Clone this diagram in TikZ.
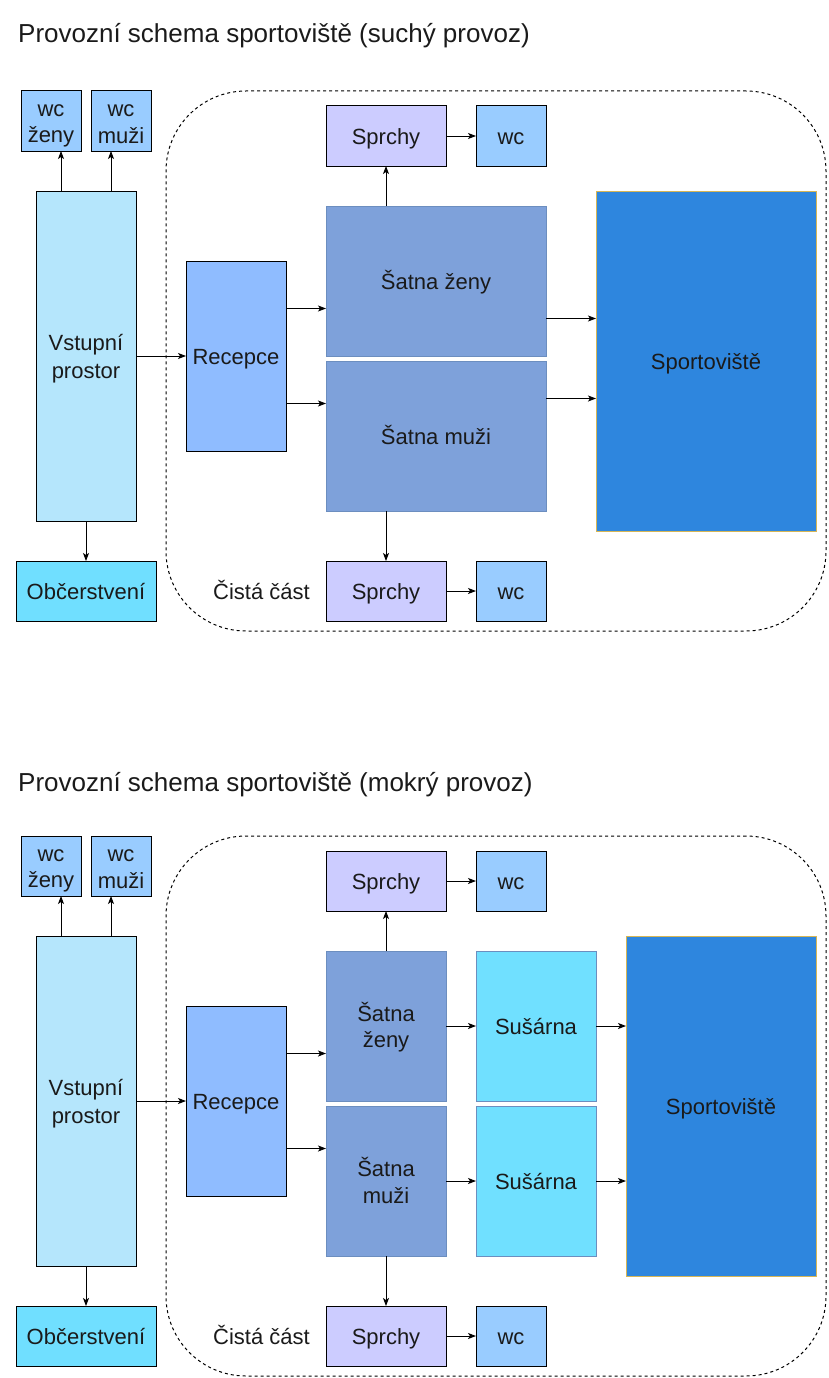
\documentclass[tikz,border=0pt]{standalone}
\usepackage{fontspec}
\setmainfont{Liberation Sans}
\usetikzlibrary{arrows.meta,calc}
\definecolor{wcc}{HTML}{99CCFF}
\definecolor{vstc}{HTML}{B5E6FC}
\definecolor{obcc}{HTML}{70DFFF}
\definecolor{recc}{HTML}{8FBCFF}
\definecolor{satc}{HTML}{7EA1DA}
\definecolor{satb}{HTML}{6C8EBF}
\definecolor{sprc}{HTML}{CCCCFF}
\definecolor{spoc}{HTML}{2E86DE}
\definecolor{spob}{HTML}{D6B656}
\definecolor{susc}{HTML}{70E0FF}
\definecolor{txt}{HTML}{1A1A1A}
\newcommand{\lnstrut}{\rule[-4.4pt]{0pt}{26.4pt}}
\newcommand{\twol}[2]{\lnstrut#1\\\lnstrut#2}
\begin{document}
\begin{tikzpicture}[x=1pt,y=-1pt,
  box/.style={draw=black, line width=1pt, anchor=north west, inner sep=0pt, outer sep=0pt, align=center, font=\fontsize{22}{26.4}\selectfont, text=txt},
  satbox/.style={box, draw=satb, fill=satc},
  zonebox/.style={draw=black, line width=1pt, dash pattern=on 3pt off 3pt, rounded corners=80pt, anchor=north west, inner sep=0pt, outer sep=0pt},
  arr/.style={draw=black, line width=0.9pt, -{Stealth[length=8pt,width=6pt,inset=2pt]}},
  ttl/.style={anchor=base west, inner sep=0pt, font=\fontsize{26}{31}\selectfont, text=txt},
  lbl/.style={inner sep=0pt, font=\fontsize{22}{26.4}\selectfont, text=txt}]
\useasboundingbox (0,0) rectangle (828,1378);

% ---------- top diagram ----------
\node[ttl] (t1) at (18,43) {Provozní schema sportoviště (suchý provoz)};
\node[zonebox, minimum width=660pt, minimum height=540pt] (z1) at (166,91) {};
\node[box, fill=wcc, minimum width=60pt, minimum height=60pt] (a1wz) at (21,91) {\twol{wc}{ženy}};
\node[box, fill=wcc, minimum width=60pt, minimum height=60pt] (a1wm) at (91,91) {\twol{wc}{muži}};
\node[box, fill=vstc, minimum width=100pt, minimum height=330pt] (a1vst) at (36,191) {\twol{Vstupní}{prostor}};
\node[box, fill=obcc, minimum width=140pt, minimum height=60pt] (a1obc) at (16,561) {\lnstrut Občerstvení};
\node[box, fill=recc, minimum width=100pt, minimum height=190pt] (a1rec) at (186,261) {\lnstrut Recepce};
\node[satbox, minimum width=220pt, minimum height=150pt] (a1sz) at (326,206) {\lnstrut Šatna ženy};
\node[satbox, minimum width=220pt, minimum height=150pt] (a1sm) at (326,361) {\lnstrut Šatna muži};
\node[box, fill=sprc, minimum width=120pt, minimum height=60pt] (a1sp1) at (326,106) {\lnstrut Sprchy};
\node[box, fill=wcc, minimum width=70pt, minimum height=60pt] (a1wc1) at (476,106) {\lnstrut wc};
\node[box, draw=spob, fill=spoc, minimum width=220pt, minimum height=340pt] (a1spo) at (596,191) {\lnstrut Sportoviště};
\node[box, fill=sprc, minimum width=120pt, minimum height=60pt] (a1sp2) at (326,561) {\lnstrut Sprchy};
\node[box, fill=wcc, minimum width=70pt, minimum height=60pt] (a1wc2) at (476,561) {\lnstrut wc};
\node[lbl] (a1cc) at (261.5,591) {\lnstrut Čistá část};

\coordinate (a1p1) at ($(a1vst.north west)!0.25!(a1vst.north east)$);
\coordinate (a1p2) at ($(a1vst.north west)!0.75!(a1vst.north east)$);
\draw[arr] (a1p1) -- (a1p1 |- a1wz.south);
\draw[arr] (a1p2) -- (a1p2 |- a1wm.south);
\draw[arr] (a1vst.south) -- (a1obc.north);
\draw[arr] (a1vst.east) -- (a1rec.west);
\coordinate (a1r1) at ($(a1rec.north east)!0.25!(a1rec.south east)$);
\coordinate (a1r2) at ($(a1rec.north east)!0.75!(a1rec.south east)$);
\draw[arr] (a1r1) -- (a1r1 -| a1sz.west);
\draw[arr] (a1r2) -- (a1r2 -| a1sm.west);
\draw[arr] (a1sp1.south |- a1sz.north) -- (a1sp1.south);
\draw[arr] (a1sp1.east) -- (a1wc1.west);
\coordinate (a1s1) at ($(a1sz.north east)!0.75!(a1sz.south east)$);
\coordinate (a1s2) at ($(a1sm.north east)!0.25!(a1sm.south east)$);
\draw[arr] (a1s1) -- (a1s1 -| a1spo.west);
\draw[arr] (a1s2) -- (a1s2 -| a1spo.west);
\draw[arr] (a1sp2.north |- a1sm.south) -- (a1sp2.north);
\draw[arr] (a1sp2.east) -- (a1wc2.west);

% ---------- bottom diagram ----------
\begin{scope}[shift={(0,745)}]
\node[ttl] (t2) at (18,46) {Provozní schema sportoviště (mokrý provoz)};
\node[zonebox, minimum width=660pt, minimum height=540pt] (z2) at (166,91) {};
\node[box, fill=wcc, minimum width=60pt, minimum height=60pt] (b1wz) at (21,91) {\twol{wc}{ženy}};
\node[box, fill=wcc, minimum width=60pt, minimum height=60pt] (b1wm) at (91,91) {\twol{wc}{muži}};
\node[box, fill=vstc, minimum width=100pt, minimum height=330pt] (b1vst) at (36,191) {\twol{Vstupní}{prostor}};
\node[box, fill=obcc, minimum width=140pt, minimum height=60pt] (b1obc) at (16,561) {\lnstrut Občerstvení};
\node[box, fill=recc, minimum width=100pt, minimum height=190pt] (b1rec) at (186,261) {\lnstrut Recepce};
\node[satbox, minimum width=120pt, minimum height=150pt] (b1sz) at (326,206) {\twol{Šatna}{ženy}};
\node[satbox, minimum width=120pt, minimum height=150pt] (b1sm) at (326,361) {\twol{Šatna}{muži}};
\node[box, draw=satb, fill=susc, minimum width=120pt, minimum height=150pt] (b1su1) at (476,206) {\lnstrut Sušárna};
\node[box, draw=satb, fill=susc, minimum width=120pt, minimum height=150pt] (b1su2) at (476,361) {\lnstrut Sušárna};
\node[box, fill=sprc, minimum width=120pt, minimum height=60pt] (b1sp1) at (326,106) {\lnstrut Sprchy};
\node[box, fill=wcc, minimum width=70pt, minimum height=60pt] (b1wc1) at (476,106) {\lnstrut wc};
\node[box, draw=spob, fill=spoc, minimum width=190pt, minimum height=340pt] (b1spo) at (626,191) {\lnstrut Sportoviště};
\node[box, fill=sprc, minimum width=120pt, minimum height=60pt] (b1sp2) at (326,561) {\lnstrut Sprchy};
\node[box, fill=wcc, minimum width=70pt, minimum height=60pt] (b1wc2) at (476,561) {\lnstrut wc};
\node[lbl] (b1cc) at (261.5,591) {\lnstrut Čistá část};

\coordinate (b1p1) at ($(b1vst.north west)!0.25!(b1vst.north east)$);
\coordinate (b1p2) at ($(b1vst.north west)!0.75!(b1vst.north east)$);
\draw[arr] (b1p1) -- (b1p1 |- b1wz.south);
\draw[arr] (b1p2) -- (b1p2 |- b1wm.south);
\draw[arr] (b1vst.south) -- (b1obc.north);
\draw[arr] (b1vst.east) -- (b1rec.west);
\coordinate (b1r1) at ($(b1rec.north east)!0.25!(b1rec.south east)$);
\coordinate (b1r2) at ($(b1rec.north east)!0.75!(b1rec.south east)$);
\draw[arr] (b1r1) -- (b1r1 -| b1sz.west);
\draw[arr] (b1r2) -- (b1r2 -| b1sm.west);
\draw[arr] (b1sz.north) -- (b1sp1.south);
\draw[arr] (b1sp1.east) -- (b1wc1.west);
\draw[arr] (b1sz.east) -- (b1su1.west);
\draw[arr] (b1sm.east) -- (b1su2.west);
\draw[arr] (b1su1.east) -- (b1su1.east -| b1spo.west);
\draw[arr] (b1su2.east) -- (b1su2.east -| b1spo.west);
\draw[arr] (b1sm.south) -- (b1sp2.north);
\draw[arr] (b1sp2.east) -- (b1wc2.west);
\end{scope}
\end{tikzpicture}
\end{document}
